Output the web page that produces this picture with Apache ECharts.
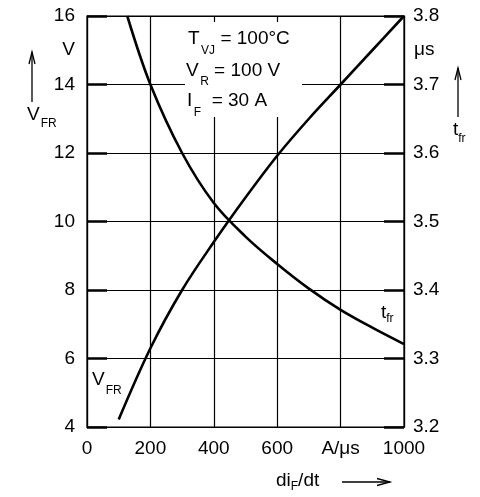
<!DOCTYPE html>
<html><head><meta charset="utf-8">
<script src="https://cdn.jsdelivr.net/npm/echarts@6/dist/echarts.min.js"></script>
<style>html,body{margin:0;padding:0;background:#fff}#c{width:480px;height:497px}</style>
</head><body><div id="c"></div>
<script>
// ---- data ----
const xTickLabels = {0:'0',200:'200',400:'400',600:'600',800:'A/μs',1000:'1000'};
const vfrX = [100, 200, 300, 400, 500, 600, 700, 800, 900, 1000];
const vfrY = [4.22, 6.3, 8.0, 9.4, 10.7, 11.92, 13.0, 14.0, 15.0, 16.0];
const tfrX = [127, 200, 300, 400, 500, 600, 700, 800, 900, 1000];
const tfrY = [3.8, 3.7, 3.6, 3.527, 3.478, 3.438, 3.402, 3.371, 3.345, 3.321];
const condLines = [['T','VJ',' = 100°C'],['V','R',' = 100 V'],['I','F','  = 30 A']];

const FONT = '"Liberation Sans", Arial, Helvetica, sans-serif';
const ctx = document.createElement('canvas').getContext('2d');
function tw(t, s){ ctx.font = s + 'px ' + FONT; return ctx.measureText(t).width; }
function label(x, y, parts){ // parts: [text, size, dy, dx]
  const els = []; let cx = x;
  parts.forEach(p => {
    const [t, s, dy, dx] = p; cx += (dx || 0);
    els.push({type:'text', x: cx, y: y + dy, z: 5,
      style:{text: t, font: s + 'px ' + FONT, fill:'#000', textAlign:'left', align:'left', textVerticalAlign:'middle', verticalAlign:'middle'}});
    cx += tw(t, s);
  });
  return els;
}
function arrowUp(x, y0, y1){
  return [
    {type:'line', z:5, shape:{x1:x, y1:y0, x2:x, y2:y1}, style:{stroke:'#000', lineWidth:1.3}},
    {type:'polyline', z:5, shape:{points:[[x-3,y1+12],[x,y1],[x+3,y1+12]]}, style:{stroke:'#000', lineWidth:1.3, fill:null}}
  ];
}
const M = 19, S = 12;
let g = [];
g.push({type:'rect', z:1, shape:{x:185, y:22, width:117, height:95}, style:{fill:'#fff'}});
const condY = [39, 70.5, 100.5];
const condX = [188, 186, 187];
const subDy = [12, 11, 12];
condLines.forEach((l, i) => {
  g = g.concat(label(condX[i], condY[i], [[l[0], M, 0], [l[1], S, subDy[i], 1.5], [l[2], M, 0]]));
});
// left axis unit and name
g.push({type:'text', x:75, y:50, z:5, style:{text:'V', font: M+'px '+FONT, fill:'#000', textAlign:'right', align:'right', textVerticalAlign:'middle', verticalAlign:'middle'}});
g = g.concat(arrowUp(32, 102, 52));
g = g.concat(label(27, 114.5, [['V', M, 0], ['FR', S, 9, 1]]));
// right axis unit and name
g.push({type:'text', x:414, y:50, z:5, style:{text:'μs', font: M+'px '+FONT, fill:'#000', textAlign:'left', align:'left', textVerticalAlign:'middle', verticalAlign:'middle'}});
g = g.concat(arrowUp(458, 117, 68));
g = g.concat(label(453, 130, [['t', M, 0], ['fr', S, 9, 0]]));
// in-plot curve labels
g = g.concat(label(92, 379.5, [['V', M, 0], ['FR', S, 11, 1]]));
g = g.concat(label(381, 313, [['t', M, 0], ['fr', S, 6, 0]]));
// x axis name
g = g.concat(label(276, 480.5, [['di', M, 0], ['F', S, 6, 0], ['/dt', M, 0]]));
g.push({type:'line', z:5, shape:{x1:342, y1:482, x2:390, y2:482}, style:{stroke:'#000', lineWidth:1.3}});
g.push({type:'polyline', z:5, shape:{points:[[377,478.5],[390,482],[377,485.5]]}, style:{stroke:'#000', lineWidth:1.3, fill:null}});

const lineC = '#000';
const chart = echarts.init(document.getElementById('c'), null, {renderer:'canvas'});
chart.setOption({
  animation:false,
  backgroundColor:'#fff',
  grid:{left:87, right:76, top:16, bottom:70, show:true, borderColor:lineC, borderWidth:1.2, backgroundColor:'transparent'},
  textStyle:{fontFamily:FONT},
  xAxis:{type:'value', min:0, max:1000, interval:200,
    axisLine:{show:true, lineStyle:{color:lineC, width:1.2}},
    axisTick:{show:false},
    splitLine:{show:true, lineStyle:{color:lineC, width:1.2}},
    axisLabel:{color:'#000', fontSize:M, fontFamily:FONT, margin:12, formatter:v => xTickLabels[v] !== undefined ? xTickLabels[v] : ''}},
  yAxis:[
    {type:'value', min:4, max:16, interval:2, position:'left',
      axisLine:{show:true, lineStyle:{color:lineC, width:1.2}},
      axisTick:{show:true, inside:true, length:20, lineStyle:{color:lineC, width:2.5}},
      splitLine:{show:true, lineStyle:{color:lineC, width:1.2}},
      axisLabel:{color:'#000', fontSize:M, fontFamily:FONT, margin:12}},
    {type:'value', min:3.2, max:3.8, interval:0.1, position:'right',
      axisLine:{show:true, lineStyle:{color:lineC, width:1.2}},
      axisTick:{show:true, inside:true, length:20, lineStyle:{color:lineC, width:2.5}},
      splitLine:{show:false},
      axisLabel:{color:'#000', fontSize:M, fontFamily:FONT, margin:9, formatter:v => v.toFixed(1)}}
  ],
  series:[
    {name:'VFR', type:'line', yAxisIndex:0, symbol:'none', smooth:0.35, z:3,
      lineStyle:{color:'#000', width:2.6}, data: vfrX.map((x,i)=>[x, vfrY[i]])},
    {name:'tfr', type:'line', yAxisIndex:1, symbol:'none', smooth:0.35, z:3,
      lineStyle:{color:'#000', width:2.6}, data: tfrX.map((x,i)=>[x, tfrY[i]])}
  ],
  graphic: g
});
</script></body></html>
